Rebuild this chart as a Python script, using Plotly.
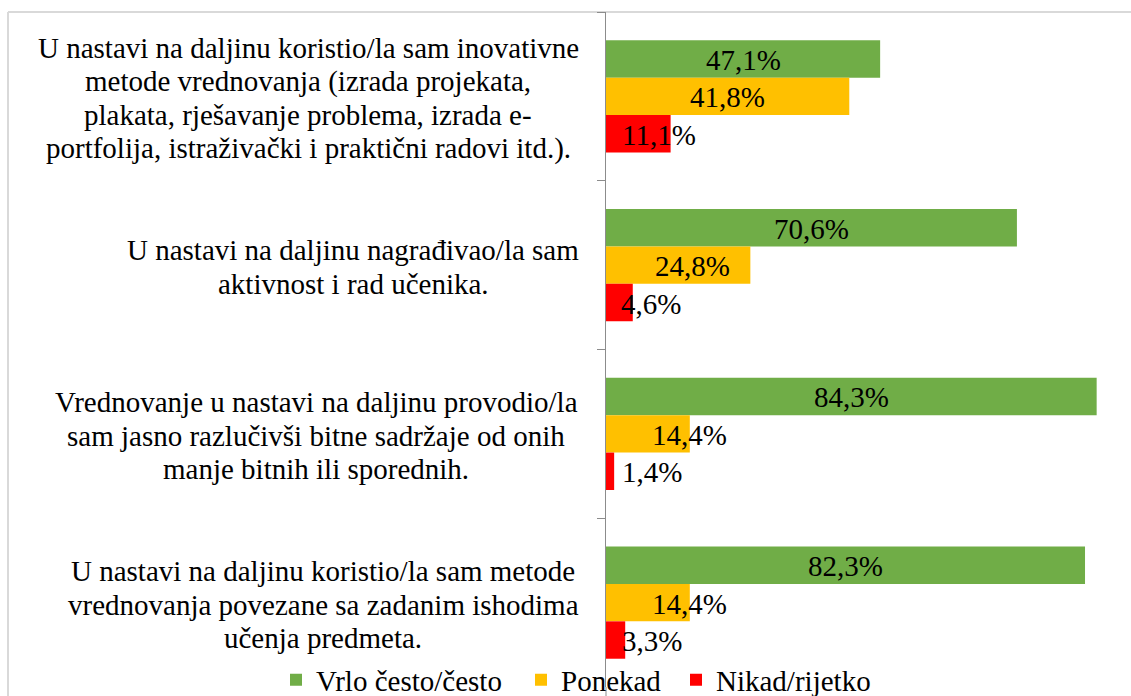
import plotly.graph_objects as go

# ---- data ----
category_lines = [
    ["U nastavi na daljinu koristio/la sam inovativne",
     "metode vrednovanja (izrada projekata,",
     "plakata, rješavanje problema, izrada e-",
     "portfolija, istraživački i praktični radovi itd.)."],
    ["U nastavi na daljinu nagrađivao/la sam",
     "aktivnost i rad učenika."],
    ["Vrednovanje u nastavi na daljinu provodio/la",
     "sam jasno razlučivši bitne sadržaje od onih",
     "manje bitnih ili sporednih."],
    ["U nastavi na daljinu koristio/la sam metode",
     "vrednovanja povezane sa zadanim ishodima",
     "učenja predmeta."],
]
categories = [" ".join(l) for l in category_lines]
series_names = ["Vrlo često/često", "Ponekad", "Nikad/rijetko"]
vrlo_cesto = [47.1, 70.6, 84.3, 82.3]
ponekad = [41.8, 24.8, 14.4, 14.4]
nikad = [11.1, 4.6, 1.4, 3.3]
series_values = [vrlo_cesto, ponekad, nikad]

# ---- style ----
colors = ["#70AD47", "#FFC000", "#FF0000"]
FONT = "Liberation Serif, Tinos, Times New Roman, DejaVu Serif, serif"
FS = 29
label_xshift = [[0, 0, 0, 0], [0, 14, 42, 42], [21, 32, 42, 36]]
cat_label_center_shift = [-298, -253, -290, -283]
legend_x_px = [276, 521, 676]
legend_ids = ["legend", "legend2", "legend3"]
LINE_PX = 33.5
BARGAP = 0.335

W, H = 1131, 696
ML, MR, MT, MB = 606, 0, 12, 9
pw = W - ML - MR
border_x = (8 - ML) / pw

fig = go.Figure()
for name, vals, col, lg in zip(series_names, series_values, colors, legend_ids):
    fig.add_trace(go.Bar(
        y=categories, x=vals, name=name, orientation="h",
        marker=dict(color=col, line=dict(width=0)),
        hoverinfo="x+name", legend=lg,
    ))

annotations = []
bw = (1 - BARGAP) / 3
for k, vals in enumerate(series_values):
    for i, v in enumerate(vals):
        annotations.append(dict(
            x=v / 2, y=i + (k - 1) * bw, xref="x", yref="y",
            text=f"{v:.1f}%".replace(".", ","), showarrow=False,
            xanchor="center", yanchor="middle",
            xshift=label_xshift[k][i], yshift=-1,
            font=dict(family=FONT, size=FS, color="black"),
        ))

for i, lines in enumerate(category_lines):
    n = len(lines)
    for j, line in enumerate(lines):
        annotations.append(dict(
            x=0, y=i, xref="paper", yref="y", text=line, showarrow=False,
            xanchor="center", yanchor="middle",
            xshift=cat_label_center_shift[i],
            yshift=((n - 1) / 2 - j) * LINE_PX - 2,
            font=dict(family=FONT, size=FS, color="black"),
        ))

legend_layouts = {}
for lg, lx in zip(legend_ids, legend_x_px):
    legend_layouts[lg] = dict(
        orientation="h", xref="container", yref="container",
        x=lx / W, xanchor="left", y=(H - 680) / H, yanchor="middle",
        bgcolor="rgba(0,0,0,0)", borderwidth=0,
        font=dict(family=FONT, size=FS, color="black"), itemwidth=30,
    )

fig.update_layout(
    width=W, height=H,
    margin=dict(l=ML, r=MR, t=MT, b=MB, pad=0, autoexpand=False),
    paper_bgcolor="white", plot_bgcolor="white",
    barmode="group", bargap=BARGAP, bargroupgap=0,
    font=dict(family=FONT, size=FS, color="black"),
    xaxis=dict(range=[0, 90.2], showgrid=False, zeroline=False,
               showticklabels=False, showline=False, ticks="",
               fixedrange=True),
    yaxis=dict(autorange="reversed", showticklabels=False,
               showline=True, linecolor="#8c8c8c", linewidth=1,
               ticks="outside", tickson="boundaries", ticklen=8,
               tickcolor="#8c8c8c", tickwidth=1, showgrid=False,
               zeroline=False, fixedrange=True),
    annotations=annotations,
    shapes=[
        dict(type="line", xref="paper", yref="paper", x0=border_x, x1=1.05,
             y0=1, y1=1, line=dict(color="#d9d9d9", width=2), layer="below"),
        dict(type="line", xref="paper", yref="paper", x0=border_x, x1=border_x,
             y0=1, y1=-0.05, line=dict(color="#d9d9d9", width=2), layer="below"),
        dict(type="line", xref="paper", yref="paper", x0=0, x1=0,
             y0=0, y1=-0.05, line=dict(color="#8c8c8c", width=1), layer="below"),
    ],
    showlegend=True,
    **legend_layouts,
)

fig.write_html(
    "out.html",
    config={"displayModeBar": False},
    post_script="document.body.style.margin='0';document.body.style.overflow='hidden';",
)
